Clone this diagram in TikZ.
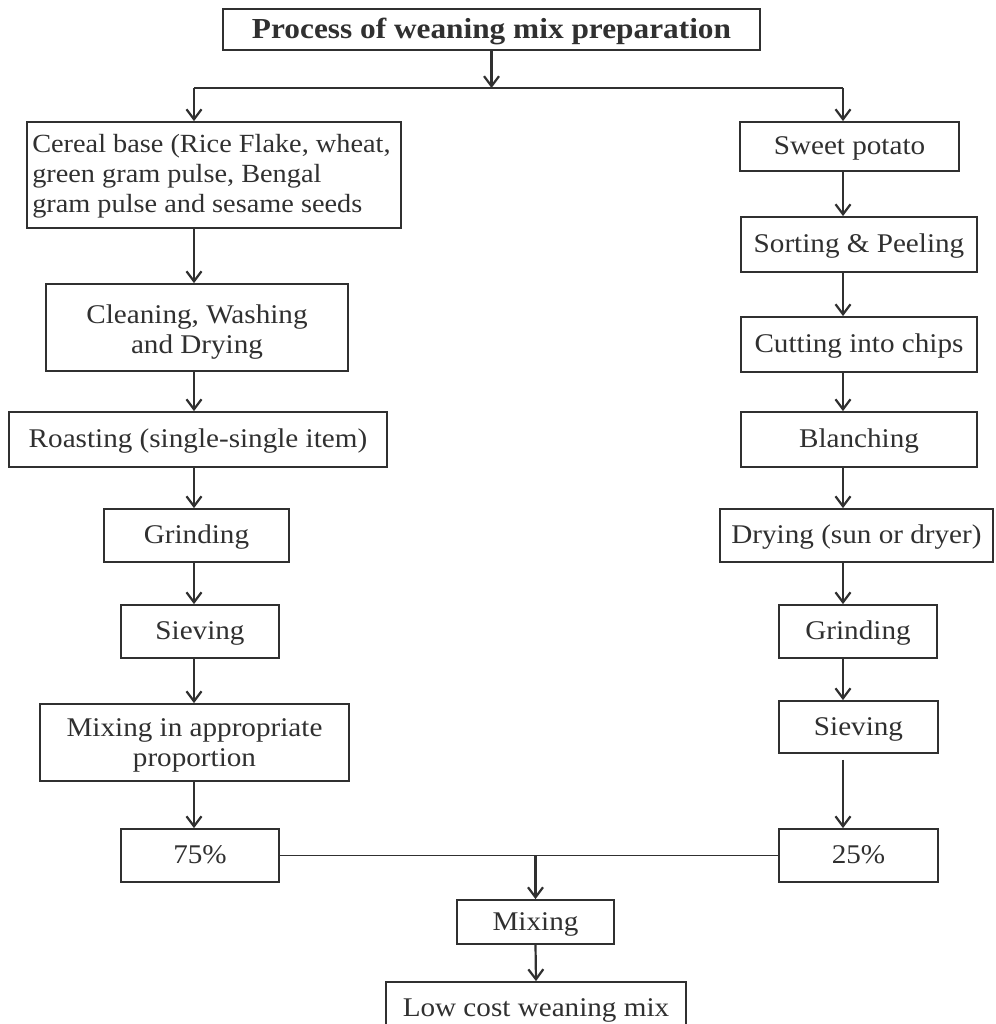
\documentclass[tikz,border=0pt]{standalone}
\usepackage{fontspec}
\setmainfont{Liberation Serif}[FakeStretch=1.08]
\usetikzlibrary{arrows.meta}
\definecolor{ink}{HTML}{303030}
\begin{document}
\begin{tikzpicture}[x=1pt,y=-1pt,
  stepbox/.style={draw=ink, line width=1.8pt, text=ink, inner sep=0pt,
    font=\fontsize{27}{30}\selectfont, anchor=center},
  one/.style={stepbox, text height=18pt, text depth=2pt},
  txt/.style={text=ink, inner sep=0pt, font=\fontsize{27}{30}\selectfont, anchor=center},
  arr/.style={draw=ink, line width=2.2pt, -{Straight Barb[length=10pt,width=15pt]}},
  ln/.style={draw=ink, line width=1.8pt}]
\useasboundingbox (0,0) rectangle (995,1024);
\fill[white] (0,0) rectangle (995,1024);
\clip (0,0) rectangle (995,1024);
% columns
\coordinate (colL) at (194,0);
\coordinate (colR) at (843,0);
\coordinate (split) at (0,88);
% nodes
\node[one, font=\fontsize{29}{32}\selectfont\bfseries, minimum width=537, minimum height=41, text height=20pt, text depth=1pt] (title) at (491.5,29.5) {Process of weaning mix preparation};
\node[stepbox, minimum width=374, minimum height=106] (cereal) at (214,175) {};
\node[txt, font=\fontsize{26.2}{30}\selectfont, align=left, anchor=west] (cerealT) at ([xshift=6pt,yshift=-1pt]cereal.west)
  {Cereal base (Rice Flake, wheat,\\green gram pulse, Bengal\\gram pulse and sesame seeds};
\node[stepbox, minimum width=302, minimum height=87] (clean) at (197,327.5) {};
\node[txt, align=center] (cleanT) at ([yshift=-5pt]clean.center) {Cleaning, Washing\\and Drying};
\node[one, minimum width=378, minimum height=55] (roast) at (198,439.5) {Roasting (single-single item)};
\node[one, minimum width=185, minimum height=53] (grindL) at (196.5,535.5) {Grinding};
\node[one, minimum width=158, minimum height=53] (sieveL) at (200,631.5) {Sieving};
\node[stepbox, minimum width=309, minimum height=77] (mixprop) at (194.5,742.5) {};
\node[txt, align=center] (mixpropT) at ([yshift=-3pt]mixprop.center) {Mixing in appropriate\\proportion};
\node[one, minimum width=158, minimum height=53] (p75) at (200,855.5) {75\%};
\node[one, minimum width=219, minimum height=49] (sweet) at (849.5,146.5) {Sweet potato};
\node[one, minimum width=236, minimum height=55] (sort) at (859,244.5) {Sorting \& Peeling};
\node[one, minimum width=236, minimum height=55] (cut) at (859,344.5) {Cutting into chips};
\node[one, minimum width=236, minimum height=55] (blanch) at (859,439.5) {Blanching};
\node[one, minimum width=273, minimum height=53] (dry) at (856.5,535.5) {Drying (sun or dryer)};
\node[one, minimum width=158, minimum height=53] (grindR) at (858,631.5) {Grinding};
\node[one, minimum width=159, minimum height=52] (sieveR) at (858.5,727) {Sieving};
\node[one, minimum width=159, minimum height=53] (p25) at (858.5,855.5) {25\%};
\node[one, minimum width=157, minimum height=44] (mix) at (535.5,922) {Mixing};
\node[one, minimum width=300, minimum height=52] (low) at (536,1008) {Low cost weaning mix};
% connectors
\draw[arr] (title.south) -- (title.south |- split);
\draw[ln] (colL |- split) -- (colR |- split);
\draw[arr] (colL |- split) -- (cereal.north -| colL);
\draw[arr] (colR |- split) -- (sweet.north -| colR);
\draw[arr] (cereal.south -| colL) -- (clean.north -| colL);
\draw[arr] (clean.south -| colL) -- (roast.north -| colL);
\draw[arr] (roast.south -| colL) -- (grindL.north -| colL);
\draw[arr] (grindL.south -| colL) -- (sieveL.north -| colL);
\draw[arr] (sieveL.south -| colL) -- (mixprop.north -| colL);
\draw[arr] (mixprop.south -| colL) -- (p75.north -| colL);
\draw[arr] (sweet.south -| colR) -- (sort.north -| colR);
\draw[arr] (sort.south -| colR) -- (cut.north -| colR);
\draw[arr] (cut.south -| colR) -- (blanch.north -| colR);
\draw[arr] (blanch.south -| colR) -- (dry.north -| colR);
\draw[arr] (dry.south -| colR) -- (grindR.north -| colR);
\draw[arr] (grindR.south -| colR) -- (sieveR.north -| colR);
\draw[arr, shorten <=6pt] (sieveR.south -| colR) -- (p25.north -| colR);
\draw[ln] (p75.east) -- (p25.west);
\draw[arr] (p75.east -| mix.north) -- (mix.north);
\draw[arr] (mix.south) -- (low.north);
\end{tikzpicture}
\end{document}
